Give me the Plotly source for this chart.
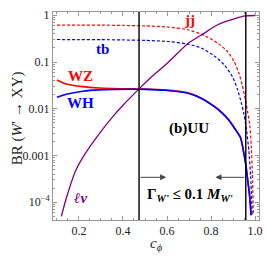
import plotly.graph_objects as go

# ---- data ----
c_jj = [0.10, 0.20, 0.30, 0.40, 0.50, 0.605, 0.695, 0.77, 0.83, 0.875, 0.905, 0.927, 0.942, 0.956, 0.967, 0.976, 0.983, 0.988, 0.992]
br_jj = [0.618, 0.617, 0.614, 0.607, 0.592, 0.560, 0.490, 0.370, 0.254, 0.168, 0.102, 0.0575, 0.0316, 0.0158, 0.0083, 0.00447, 0.00158, 0.0004, 0.0000525]

c_tb = [0.10, 0.20, 0.30, 0.40, 0.50, 0.605, 0.695, 0.755, 0.815, 0.86, 0.898, 0.92, 0.938, 0.95, 0.962, 0.972, 0.980, 0.987]
br_tb = [0.303, 0.302, 0.301, 0.297, 0.290, 0.275, 0.242, 0.200, 0.135, 0.0871, 0.0479, 0.0263, 0.0132, 0.00759, 0.00331, 0.00126, 0.000355, 0.0000525]

c_v = [0.10, 0.142, 0.217, 0.291, 0.44, 0.50, 0.589, 0.695, 0.754, 0.815, 0.852, 0.882, 0.904, 0.934, 0.949, 0.958, 0.966, 0.975, 0.982]
br_wh = [0.0176, 0.0204, 0.0237, 0.0253, 0.0262, 0.0260, 0.0248, 0.0215, 0.0168, 0.01107, 0.00794, 0.00562, 0.00398, 0.0024, 0.00112, 0.000631, 0.000316, 0.000141, 0.0000525]
br_wz = [0.0414, 0.0340, 0.0298, 0.0279, 0.0266, 0.0264, 0.0253, 0.0219, 0.0171, 0.0113, 0.0081, 0.00573, 0.00406, 0.00245, 0.00114, 0.000644, 0.000322, 0.000144, 0.0000535]

c_lv = [0.12, 0.142, 0.187, 0.232, 0.291, 0.35, 0.40, 0.472, 0.535, 0.605, 0.695, 0.77, 0.83, 0.905, 0.956, 1.0]
br_lv = [5.0e-5, 1.2e-4, 5.0e-4, 1.17e-3, 2.88e-3, 6.46e-3, 0.0119, 0.0263, 0.0507, 0.0977, 0.249, 0.416, 0.627, 0.834, 0.966, 0.99]

width_bounds = [0.473, 0.958]   # Gamma_W' <= 0.1 M_W' limits

x_ticks = [0.2, 0.4, 0.6, 0.8, 1.0]
x_ticktext = ["0.2", "0.4", "0.6", "0.8", "1.0"]
y_ticks = [1e-4, 1e-3, 1e-2, 1e-1, 1]
y_ticktext = ["10<sup>\u22124</sup>", "0.001", "0.01", "0.1", "1"]

RED = "#ff0000"
BLUE = "#0000ff"
PURPLE = "#800080"
SERIF = "Liberation Serif"

fig = go.Figure()

def add(x, y, color, dash="solid", width=1.4):
    fig.add_trace(go.Scatter(x=x, y=y, mode="lines",
                             line=dict(color=color, width=width, dash=dash, shape="spline", smoothing=0.6),
                             showlegend=False, hoverinfo="skip"))

add(c_jj, br_jj, RED, dash="3px,2px", width=1.2)
add(c_tb, br_tb, BLUE, dash="3px,2px", width=1.2)
add(c_lv, br_lv, PURPLE, width=1.3)
add(c_v, br_wz, RED, width=1.6)
add(c_v, br_wh, BLUE, width=1.6)

for xb in width_bounds:
    fig.add_vline(x=xb, line=dict(color="black", width=1.4))

# arrows
arrow_y = -3.467
fig.add_annotation(x=0.596, y=arrow_y, ax=width_bounds[0], ay=arrow_y, xref="x", yref="y",
                   axref="x", ayref="y", text="", showarrow=True, arrowhead=2, arrowsize=1.2,
                   arrowwidth=1, arrowcolor="#444444")
fig.add_annotation(x=0.82, y=arrow_y, ax=width_bounds[1], ay=arrow_y, xref="x", yref="y",
                   axref="x", ayref="y", text="", showarrow=True, arrowhead=2, arrowsize=1.2,
                   arrowwidth=1, arrowcolor="#444444")

def label(x, y, text, color, size=15):
    fig.add_annotation(x=x, y=y, xref="x", yref="y", text=text, showarrow=False,
                       font=dict(family=SERIF, size=size, color=color), xanchor="center", yanchor="middle")

label(0.701, -0.101, "<b>jj</b>", RED)
label(0.307, -0.722, "<b>tb</b>", BLUE)
label(0.206, -1.293, "<b>WZ</b>", RED)
label(0.206, -1.884, "<b>WH</b>", BLUE)
label(0.699, -2.419, "<b>(b)UU</b>", "black")
label(0.205, -3.91, "<b><i>\u2113\u03bd</i></b>", PURPLE)
label(0.704, -3.846, "<b>\u0393<sub><i>W'</i></sub> \u2264 0.1 <i>M</i><sub><i>W'</i></sub></b>", "black", size=15)

# axis titles
fig.add_annotation(x=-0.225, y=0.49, xref="paper", yref="paper", text="BR (<i>W</i>\u2032 \u2192 XY)",
                   textangle=-90, showarrow=False, font=dict(family=SERIF, size=15, color="#222"))
fig.add_annotation(x=0.50, y=-0.17, xref="paper", yref="paper", text="<i>c</i><sub><i>\u03d5</i></sub>",
                   showarrow=False, font=dict(family=SERIF, size=15, color="#222"))

axis_common = dict(showline=True, linecolor="#999999", linewidth=1, mirror="allticks",
                   ticks="inside", ticklen=4, tickcolor="#999999", showgrid=False, zeroline=False,
                   tickfont=dict(family=SERIF, size=12, color="#222"))

fig.update_xaxes(range=[0.082, 1.018], tickvals=x_ticks, ticktext=x_ticktext,
                 minor=dict(ticks="inside", ticklen=2, dtick=0.05, tick0=0, tickcolor="#999999"),
                 **axis_common)
fig.update_yaxes(type="log", range=[-4.38, 0.07], tickvals=y_ticks, ticktext=y_ticktext,
                 minor=dict(ticks="inside", ticklen=2, dtick="D1", tickcolor="#999999"),
                 **axis_common)

# plot area at page x 53..262, y 12..220
fig.update_layout(width=266, height=266, margin=dict(l=53, r=4, t=12, b=46),
                  plot_bgcolor="white", paper_bgcolor="white", showlegend=False)

# remove the browser's default 8px body margin so the 266px figure fits the window exactly
fig.write_html("out.html", config={"displayModeBar": False, "staticPlot": True},
               post_script="document.body.style.margin='0';document.body.style.overflow='hidden';")
